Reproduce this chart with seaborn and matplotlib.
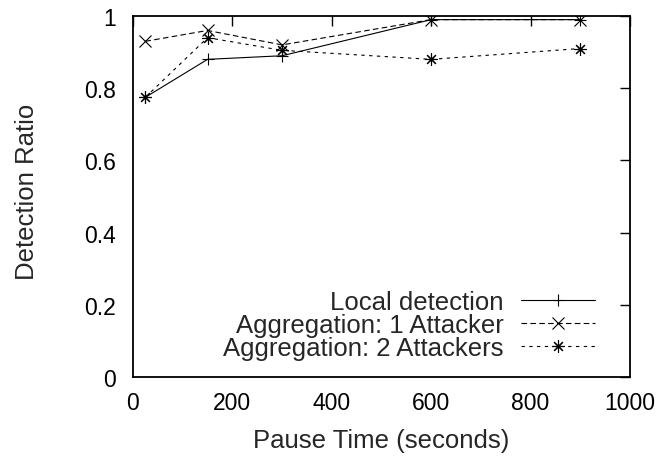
import matplotlib
matplotlib.use("Agg")
import matplotlib.pyplot as plt
import seaborn as sns
import pandas as pd

# Pause time values (seconds) and detection ratios per scheme
pause_time = [25, 150, 300, 600, 900]
local_detection = [0.775, 0.88, 0.89, 0.99, 0.99]
aggregation_1 = [0.93, 0.96, 0.92, 0.99, 0.99]
aggregation_2 = [0.775, 0.94, 0.905, 0.88, 0.91]

labels = ["Local detection", "Aggregation: 1 Attacker", "Aggregation: 2 Attackers"]
x_ticks = [0, 200, 400, 600, 800, 1000]
y_ticks = [0, 0.2, 0.4, 0.6, 0.8, 1]

sns.set_theme(style="white")
plt.rcParams["font.family"] = ["Liberation Sans", "DejaVu Sans"]

TICK_FS = 16.5
LABEL_FS = 18.5

df = pd.concat([
    pd.DataFrame({"pause": pause_time, "ratio": vals, "scheme": name})
    for name, vals in zip(labels, [local_detection, aggregation_1, aggregation_2])
])

fig = plt.figure(figsize=(6.6, 4.6), dpi=100)
ax = fig.add_axes([0.2015, 0.178, 0.7530, 0.785])

styles = {
    labels[0]: dict(marker="+", ms=9, linestyle="-"),
    labels[1]: dict(marker="x", ms=8, linestyle=(0, (5, 3))),
    labels[2]: dict(marker=(8, 2, 0), ms=9, linestyle=(0, (3, 4))),
}

for name in labels:
    st = styles[name]
    sub = df[df["scheme"] == name]
    sns.lineplot(data=sub, x="pause", y="ratio", ax=ax, color="black",
                 linewidth=0.8, marker=st["marker"], markersize=st["ms"],
                 markeredgewidth=0.8, markeredgecolor="black",
                 linestyle=st["linestyle"], label=name)

ax.set_xlim(0, 1000)
ax.set_ylim(0, 1)
ax.set_xticks(x_ticks)
ax.set_xticklabels([str(t) for t in x_ticks])
ax.set_yticks(y_ticks)
ax.set_yticklabels(["0", "0.2", "0.4", "0.6", "0.8", "1"])
ax.set_xlabel("Pause Time (seconds)", fontsize=LABEL_FS, labelpad=10)
ax.set_ylabel("Detection Ratio", fontsize=LABEL_FS, labelpad=33)
ax.yaxis.label.set_y(0.515)

for sp in ax.spines.values():
    sp.set_color("black")
    sp.set_linewidth(1.3)

ax.tick_params(axis="both", which="major", direction="in", length=7, width=1.0,
               colors="black", labelsize=TICK_FS, top=True, right=True)
ax.tick_params(axis="x", pad=10)
ax.tick_params(axis="y", pad=12)
ax.grid(False)

leg = ax.legend(loc="lower right", bbox_to_anchor=(0.93, 0.048), frameon=False,
                markerfirst=False, handlelength=2.9, handletextpad=0.65,
                labelspacing=-0.04, borderaxespad=0, borderpad=0,
                fontsize=LABEL_FS)
for t in leg.get_texts():
    t.set_ha("right")

fig.savefig("out.png", dpi=100)
